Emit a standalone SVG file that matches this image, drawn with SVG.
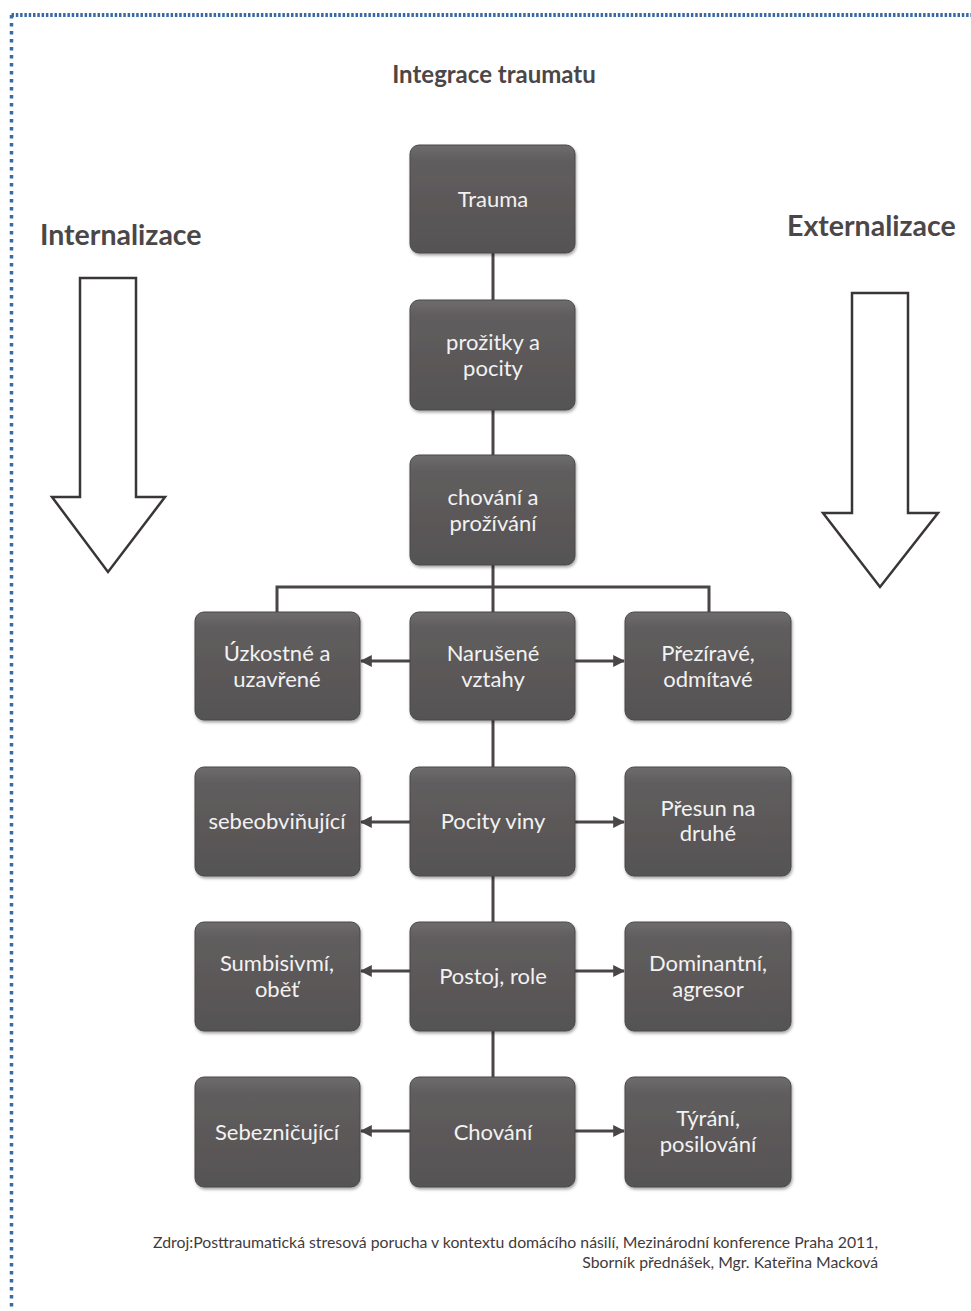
<svg xmlns="http://www.w3.org/2000/svg" width="971" height="1311" viewBox="0 0 971 1311">
<style>
.box{fill:url(#g);stroke:#4a4849;stroke-width:1;filter:url(#sh)}
.bt{font-family:Lato,"Open Sans",sans-serif;font-size:22px;fill:#f2f2f2;text-anchor:middle}
.ln{stroke:#4a4546;stroke-width:3;fill:none}
.ar{stroke:#4a4546;stroke-width:3;fill:none;marker-end:url(#ah)}
.big{fill:#fff;stroke:#3a3536;stroke-width:2.5}
.hd{font-family:Lato,"Open Sans",sans-serif;font-weight:bold;fill:#4b4748}
.ft{font-family:Lato,"Open Sans",sans-serif;font-size:15.8px;fill:#3f3b3c}
</style>
<defs>
<linearGradient id="g" x1="0" y1="0" x2="0" y2="1">
<stop offset="0" stop-color="#6e6c6d"/>
<stop offset="0.15" stop-color="#605d5e"/>
<stop offset="1" stop-color="#565354"/>
</linearGradient>
<filter id="sh" x="-10%" y="-10%" width="125%" height="125%">
<feDropShadow dx="1" dy="2" stdDeviation="1.5" flood-color="#000" flood-opacity="0.35"/>
</filter>
<marker id="ah" viewBox="0 0 10 10" refX="9" refY="5" markerWidth="4" markerHeight="4" orient="auto" markerUnits="strokeWidth">
<path d="M0,0L10,5L0,10z" fill="#4a4546"/>
</marker>
</defs>
<rect width="971" height="1311" fill="#fff"/>
<g id="border">
<line x1="11.5" y1="15" x2="971" y2="15" stroke="#3a6aa4" stroke-width="4" stroke-dasharray="2.5 1.8"/>
<line x1="11.5" y1="15" x2="11.5" y2="1311" stroke="#3a6aa4" stroke-width="3.5" stroke-dasharray="3.5 4.5"/>
</g>
<text class="hd" x="494" y="83" font-size="24" text-anchor="middle">Integrace traumatu</text>
<text class="hd" x="40" y="245" font-size="28.5">Internalizace</text>
<text class="hd" x="787" y="236" font-size="28.5">Externalizace</text>
<g id="arrow-left"><path class="big" d="M80,278H136V497H165L108,572L52,497H80Z"/></g>
<g id="arrow-right"><path class="big" d="M852,293H908V513H938L880,587L823,513H852Z"/></g>
<g id="connectors">
<line class="ln" x1="493" y1="253" x2="493" y2="300"/>
<line class="ln" x1="493" y1="410" x2="493" y2="455"/>
<line class="ln" x1="493" y1="565" x2="493" y2="612"/>
<path class="ln" d="M277,612V587H709V612"/>
<line class="ln" x1="493" y1="720" x2="493" y2="767"/>
<line class="ln" x1="493" y1="876" x2="493" y2="922"/>
<line class="ln" x1="493" y1="1031" x2="493" y2="1077"/>
<line class="ar" x1="410" y1="661" x2="361" y2="661"/>
<line class="ar" x1="575" y1="661" x2="624" y2="661"/>
<line class="ar" x1="410" y1="822" x2="361" y2="822"/>
<line class="ar" x1="575" y1="822" x2="624" y2="822"/>
<line class="ar" x1="410" y1="971" x2="361" y2="971"/>
<line class="ar" x1="575" y1="971" x2="624" y2="971"/>
<line class="ar" x1="410" y1="1131" x2="361" y2="1131"/>
<line class="ar" x1="575" y1="1131" x2="624" y2="1131"/>
</g>
<g id="n-trauma"><rect class="box" x="410" y="145" width="165" height="108" rx="9"/><text class="bt" x="493" y="207">Trauma</text></g>
<g id="n-prozitky"><rect class="box" x="410" y="300" width="165" height="110" rx="9"/><text class="bt" x="493" y="350">prožitky a</text><text class="bt" x="493" y="376">pocity</text></g>
<g id="n-chovani1"><rect class="box" x="410" y="455" width="165" height="110" rx="9"/><text class="bt" x="493" y="505">chování a</text><text class="bt" x="493" y="531">prožívání</text></g>
<g id="n-uzkostne"><rect class="box" x="195" y="612" width="165" height="108" rx="9"/><text class="bt" x="277" y="661">Úzkostné a</text><text class="bt" x="277" y="687">uzavřené</text></g>
<g id="n-narusene"><rect class="box" x="410" y="612" width="165" height="108" rx="9"/><text class="bt" x="493" y="661">Narušené</text><text class="bt" x="493" y="687">vztahy</text></g>
<g id="n-prezirave"><rect class="box" x="625" y="612" width="166" height="108" rx="9"/><text class="bt" x="708" y="661">Přezíravé,</text><text class="bt" x="708" y="687">odmítavé</text></g>
<g id="n-sebeobv"><rect class="box" x="195" y="767" width="165" height="109" rx="9"/><text class="bt" x="277" y="829">sebeobviňující</text></g>
<g id="n-pocity"><rect class="box" x="410" y="767" width="165" height="109" rx="9"/><text class="bt" x="493" y="829">Pocity viny</text></g>
<g id="n-presun"><rect class="box" x="625" y="767" width="166" height="109" rx="9"/><text class="bt" x="708" y="816">Přesun na</text><text class="bt" x="708" y="841">druhé</text></g>
<g id="n-sumbis"><rect class="box" x="195" y="922" width="165" height="109" rx="9"/><text class="bt" x="277" y="971">Sumbisivmí,</text><text class="bt" x="277" y="997">oběť</text></g>
<g id="n-postoj"><rect class="box" x="410" y="922" width="165" height="109" rx="9"/><text class="bt" x="493" y="984">Postoj, role</text></g>
<g id="n-dominant"><rect class="box" x="625" y="922" width="166" height="109" rx="9"/><text class="bt" x="708" y="971">Dominantní,</text><text class="bt" x="708" y="997">agresor</text></g>
<g id="n-sebezn"><rect class="box" x="195" y="1077" width="165" height="110" rx="9"/><text class="bt" x="277" y="1140">Sebezničující</text></g>
<g id="n-chovani2"><rect class="box" x="410" y="1077" width="165" height="110" rx="9"/><text class="bt" x="493" y="1140">Chování</text></g>
<g id="n-tyrani"><rect class="box" x="625" y="1077" width="166" height="110" rx="9"/><text class="bt" x="708" y="1126">Týrání,</text><text class="bt" x="708" y="1152">posilování</text></g>
<text class="ft" x="878" y="1248" text-anchor="end">Zdroj:Posttraumatická stresová porucha v kontextu domácího násilí, Mezinárodní konference Praha 2011,</text>
<text class="ft" x="878" y="1268" text-anchor="end">Sborník přednášek, Mgr. Kateřina Macková</text>
</svg>
